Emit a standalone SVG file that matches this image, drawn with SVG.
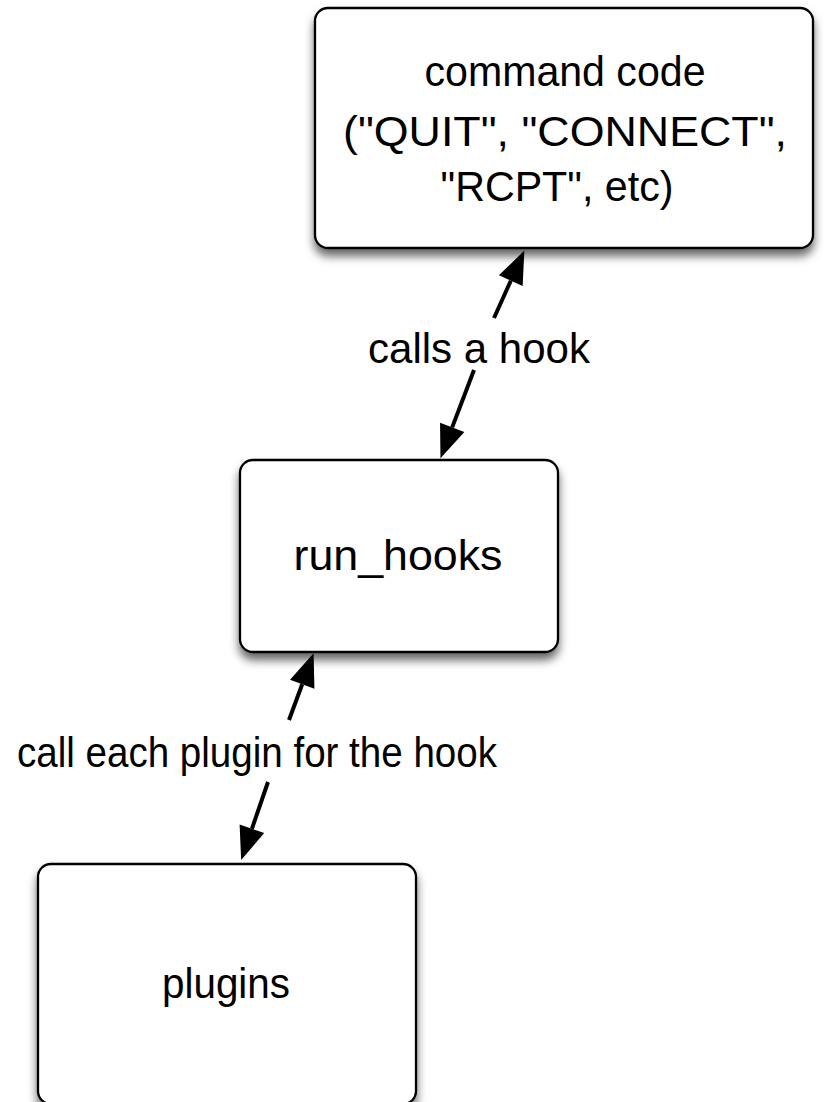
<svg xmlns="http://www.w3.org/2000/svg" width="839" height="1102" viewBox="0 0 839 1102">
<defs>
<filter id="shadow" x="-10%" y="-10%" width="120%" height="130%">
<feDropShadow dx="0" dy="7" stdDeviation="5" flood-color="#000" flood-opacity="0.6"/>
</filter>
<marker id="head" markerUnits="userSpaceOnUse" markerWidth="34" markerHeight="26" refX="0" refY="13" orient="auto" overflow="visible">
<path d="M0,0 L33,13 L0,26 z" fill="#000"/>
</marker>
</defs>
<style>
.box{fill:#fff;stroke:#000;stroke-width:2.3;filter:url(#shadow)}
.lbl{font-family:"Liberation Sans",Arial,sans-serif;font-size:43px;fill:#000;text-anchor:middle}
.conn{stroke:#000;stroke-width:4;fill:none;marker-end:url(#head)}
</style>
<rect width="839" height="1102" fill="#fff"/>
<g id="connectors">
<line class="conn" x1="494" y1="318" x2="510.8" y2="280.7"/>
<line class="conn" x1="474" y1="370" x2="452.2" y2="427.4"/>
<line class="conn" x1="289" y1="720" x2="302.2" y2="684.2"/>
<line class="conn" x1="268" y1="782" x2="251.9" y2="828.8"/>
<text class="lbl" x="479" y="363" textLength="222" lengthAdjust="spacingAndGlyphs">calls a hook</text>
<text class="lbl" x="257" y="767" textLength="480" lengthAdjust="spacingAndGlyphs">call each plugin for the hook</text>
</g>
<g id="node-command">
<rect class="box" x="315" y="8" width="498" height="240" rx="13"/>
<text class="lbl" x="565" y="86" textLength="281" lengthAdjust="spacingAndGlyphs">command code</text>
<text class="lbl" x="565" y="146" textLength="444" lengthAdjust="spacingAndGlyphs">("QUIT", "CONNECT",</text>
<text class="lbl" x="557" y="201" textLength="233" lengthAdjust="spacingAndGlyphs">"RCPT", etc)</text>
</g>
<g id="node-run-hooks">
<rect class="box" x="240" y="460" width="318" height="192" rx="13"/>
<text class="lbl" x="398" y="570" textLength="209" lengthAdjust="spacingAndGlyphs">run_hooks</text>
</g>
<g id="node-plugins">
<rect class="box" x="38" y="864" width="378" height="240" rx="13"/>
<text class="lbl" x="226" y="998" textLength="128" lengthAdjust="spacingAndGlyphs">plugins</text>
</g>
</svg>
